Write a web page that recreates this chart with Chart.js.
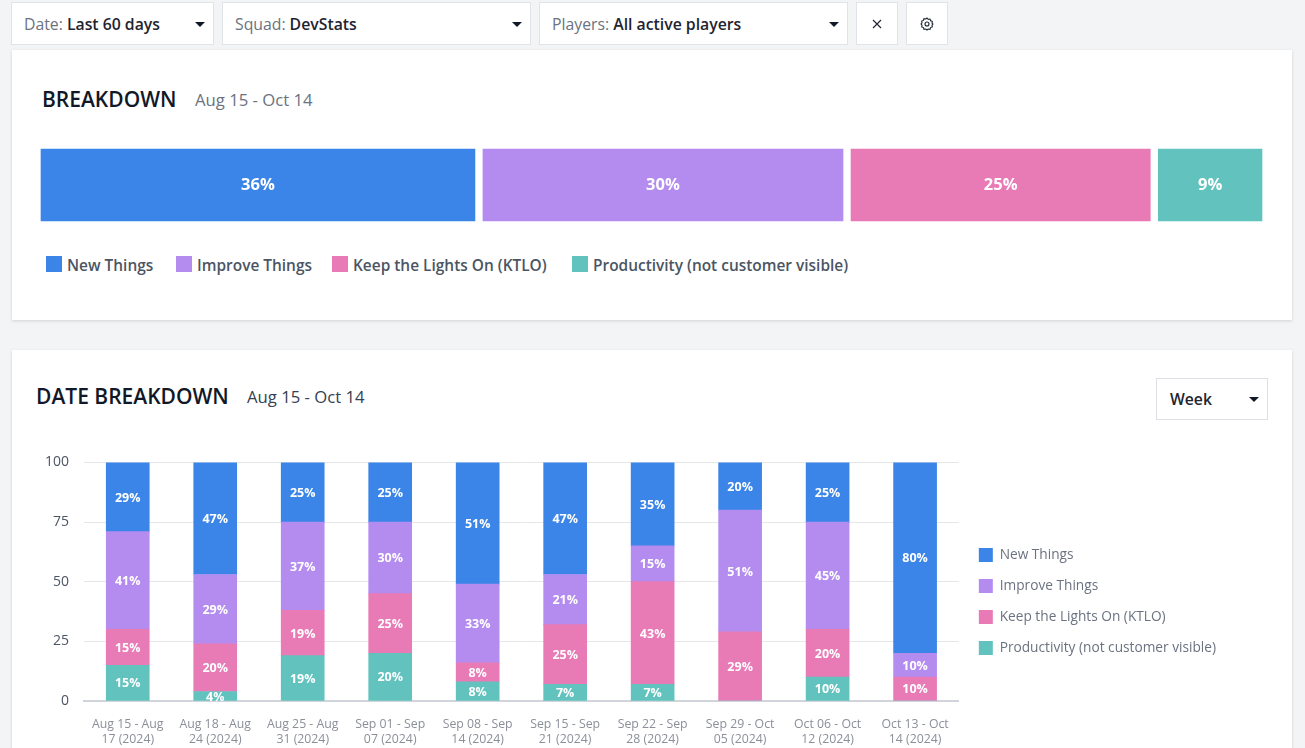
<!DOCTYPE html>
<html><head><meta charset="utf-8">
<script src="https://cdn.jsdelivr.net/npm/chart.js@4"></script>
<style>
*{box-sizing:border-box}
html,body{margin:0;padding:0;width:1305px;height:748px;overflow:hidden;background:#f3f4f6;font-family:"Open Sans",sans-serif;color:#111827}
.abs{position:absolute}
.box{position:absolute;background:#fff;border:1px solid #e1e3e8;top:2px;height:43px;display:flex;align-items:center;font-size:15.8px;padding-left:12px}
.box .l{color:#6b7280;margin-right:4px}.box .v{font-weight:600;color:#1f2430}
.caret{position:absolute;right:8px;top:50%;margin-top:-2px;width:0;height:0;border-left:5px solid transparent;border-right:5px solid transparent;border-top:5px solid #111827}
.card{position:absolute;left:12px;width:1280px;background:#fff;box-shadow:0 1px 3px rgba(0,0,0,.14)}
.title{position:absolute;font-weight:600;color:#111827;white-space:nowrap}
.sub{position:absolute;white-space:nowrap}
#legendTop{position:absolute;left:46px;top:254px;height:22px;font-size:15.45px;font-weight:600;color:#4b5563;white-space:nowrap}
#legendTop span.i{position:absolute;top:2px;width:16px;height:16px}
#legendTop span.t{position:absolute;top:0;line-height:22px}
canvas{display:block}
</style></head><body>
<div class="box" style="left:11px;width:203px"><span class="l">Date:</span><span class="v">Last 60 days</span><i class="caret"></i></div>
<div class="box" style="left:222px;width:309px"><span class="l">Squad:</span><span class="v">DevStats</span><i class="caret"></i></div>
<div class="box" style="left:539px;width:309px"><span class="l">Players:</span><span class="v">All active players</span><i class="caret"></i></div>
<div class="box" style="left:856px;width:42px;padding:0;justify-content:center"><svg width="10" height="10" viewBox="0 0 10 10"><path d="M1 1L9 9M9 1L1 9" stroke="#1f2430" stroke-width="1.1"/></svg></div>
<div class="box" style="left:906px;width:42px;padding:0;justify-content:center"><svg width="14" height="14" viewBox="0 0 14 14" fill="none" stroke="#1f2430" stroke-width="1.1"><path d="M7 1l1.2 1.3 1.8-.3.6 1.7 1.7.6-.3 1.8L13 7l-1 1.2.3 1.8-1.7.6-.6 1.7-1.8-.3L7 13l-1.2-1-1.8.3-.6-1.7-1.7-.6.3-1.8L1 7l1-1.2-.3-1.8 1.7-.6.6-1.7 1.8.3z"/><circle cx="7" cy="7" r="2"/></svg></div>

<div class="card" style="top:50px;height:270px"></div>
<div class="title" style="left:42px;top:85px;font-size:21px;line-height:28px">BREAKDOWN</div>
<div class="sub" style="left:195px;top:89px;font-size:16.7px;line-height:22px;color:#6b7280">Aug 15 - Oct 14</div>
<div class="abs" style="left:37px;top:145px;width:1229px;height:80px"><canvas id="top"></canvas></div>
<div id="legendTop"></div>

<div class="card" style="top:350px;height:420px"></div>
<div class="title" style="left:36px;top:382px;font-size:21px;line-height:28px">DATE BREAKDOWN</div>
<div class="sub" style="left:247px;top:386px;font-size:16.7px;line-height:22px;color:#374151">Aug 15 - Oct 14</div>
<div class="box" style="left:1156px;top:378px;width:112px;height:42px;font-size:15.7px;padding-left:13px;border-color:#dcdfe4"><span class="v">Week</span><i class="caret"></i></div>
<div class="abs" style="left:12px;top:439px;width:1280px;height:309px"><canvas id="weekly"></canvas></div>

<script>
const seriesNames=["New Things","Improve Things","Keep the Lights On (KTLO)","Productivity (not customer visible)"];
const seriesColors=["#3b84e8","#b48cf0","#e87ab6","#62c3be"];
const overallValues=[35.96,29.95,25,9.09];
const weekLabels=[["Aug 15 - Aug","17 (2024)"],["Aug 18 - Aug","24 (2024)"],["Aug 25 - Aug","31 (2024)"],["Sep 01 - Sep","07 (2024)"],["Sep 08 - Sep","14 (2024)"],["Sep 15 - Sep","21 (2024)"],["Sep 22 - Sep","28 (2024)"],["Sep 29 - Oct","05 (2024)"],["Oct 06 - Oct","12 (2024)"],["Oct 13 - Oct","14 (2024)"]];
const newThings=[29,47,25,25,51,47,35,20,25,80];
const improveThings=[41,29,37,30,33,21,15,51,45,10];
const keepLightsOn=[15,20,19,25,8,25,43,29,20,10];
const productivity=[15,4,19,20,8,7,7,0,10,0];
const yTicks=[0,25,50,75,100];
const FONT='"Open Sans",sans-serif';

const pctLabels={id:'pctLabels',afterDatasetsDraw(chart,args,opts){
  const c=chart.ctx;c.save();c.fillStyle='#fff';c.textAlign='center';c.textBaseline='middle';
  c.font=`${opts.weight} ${opts.size}px ${FONT}`;
  chart.data.datasets.forEach((d,i)=>{chart.getDatasetMeta(i).data.forEach((el,j)=>{
    if(!d.data[j])return;const p=el.getCenterPoint();c.fillText(Math.round(d.data[j])+'%',p.x,p.y+(opts.dy||0));});});
  c.restore();}};
const legendNudge={id:'legendNudge',afterLayout(chart,args,opts){
  const l=chart.legend;if(!l||!opts.dx)return;l.left+=opts.dx;l.right+=opts.dx;l.top+=opts.dy;l.bottom+=opts.dy;}};
Chart.register(pctLabels,legendNudge);

new Chart(document.getElementById('top'),{type:'bar',
 data:{labels:['Overall'],datasets:seriesNames.map((n,i)=>({label:n,data:[overallValues[i]],backgroundColor:seriesColors[i],borderColor:'#fff',borderWidth:4,borderSkipped:false,categoryPercentage:1,barPercentage:1}))},
 options:{indexAxis:'y',responsive:true,maintainAspectRatio:false,animation:false,layout:{padding:0},
  scales:{x:{display:false,stacked:true,min:0,max:100},y:{display:false,stacked:true}},
  plugins:{legend:{display:false},tooltip:{enabled:false},pctLabels:{size:16.5,weight:700}}}});

const lt=document.getElementById('legendTop');
const ltBoxes=[0,130,286,526],ltText=[21,151,307,547];
seriesNames.forEach((n,i)=>{lt.insertAdjacentHTML('beforeend',`<span class="i" style="left:${ltBoxes[i]}px;background:${seriesColors[i]}"></span><span class="t" style="left:${ltText[i]}px">${n}</span>`);});

const weekSeries=[newThings,improveThings,keepLightsOn,productivity];
const order=[3,2,1,0];
new Chart(document.getElementById('weekly'),{type:'bar',
 data:{labels:weekLabels,datasets:order.map(i=>({label:seriesNames[i],data:weekSeries[i],backgroundColor:seriesColors[i],borderWidth:0,barThickness:43}))},
 options:{responsive:true,maintainAspectRatio:false,animation:false,layout:{padding:{top:10,right:69,left:0,bottom:0}},
  scales:{
   x:{stacked:true,grid:{display:false,drawTicks:false},border:{color:'#d1d5db',width:2},
      ticks:{color:'#8b8f98',font:{family:FONT,size:12.3,lineHeight:1.3},maxRotation:0,autoSkip:false,padding:15},
      afterFit(s){s.height=47}},
   y:{stacked:true,min:0,max:100,afterBuildTicks(s){s.ticks=yTicks.map(v=>({value:v}))},
      grid:{color:'#e5e7eb',drawTicks:false},border:{display:false},
      ticks:{color:'#4b5563',font:{family:FONT,size:14},padding:15},
      afterFit(s){s.width=72}}},
  plugins:{tooltip:{enabled:false},pctLabels:{size:12.5,weight:700,dy:1},
   legendNudge:{dx:3,dy:3},
   legend:{position:'right',reverse:true,align:'center',
     labels:{boxWidth:14,boxHeight:14,padding:17,color:'#6b7280',font:{family:FONT,size:13.7}}}}}});
</script>
</body></html>
